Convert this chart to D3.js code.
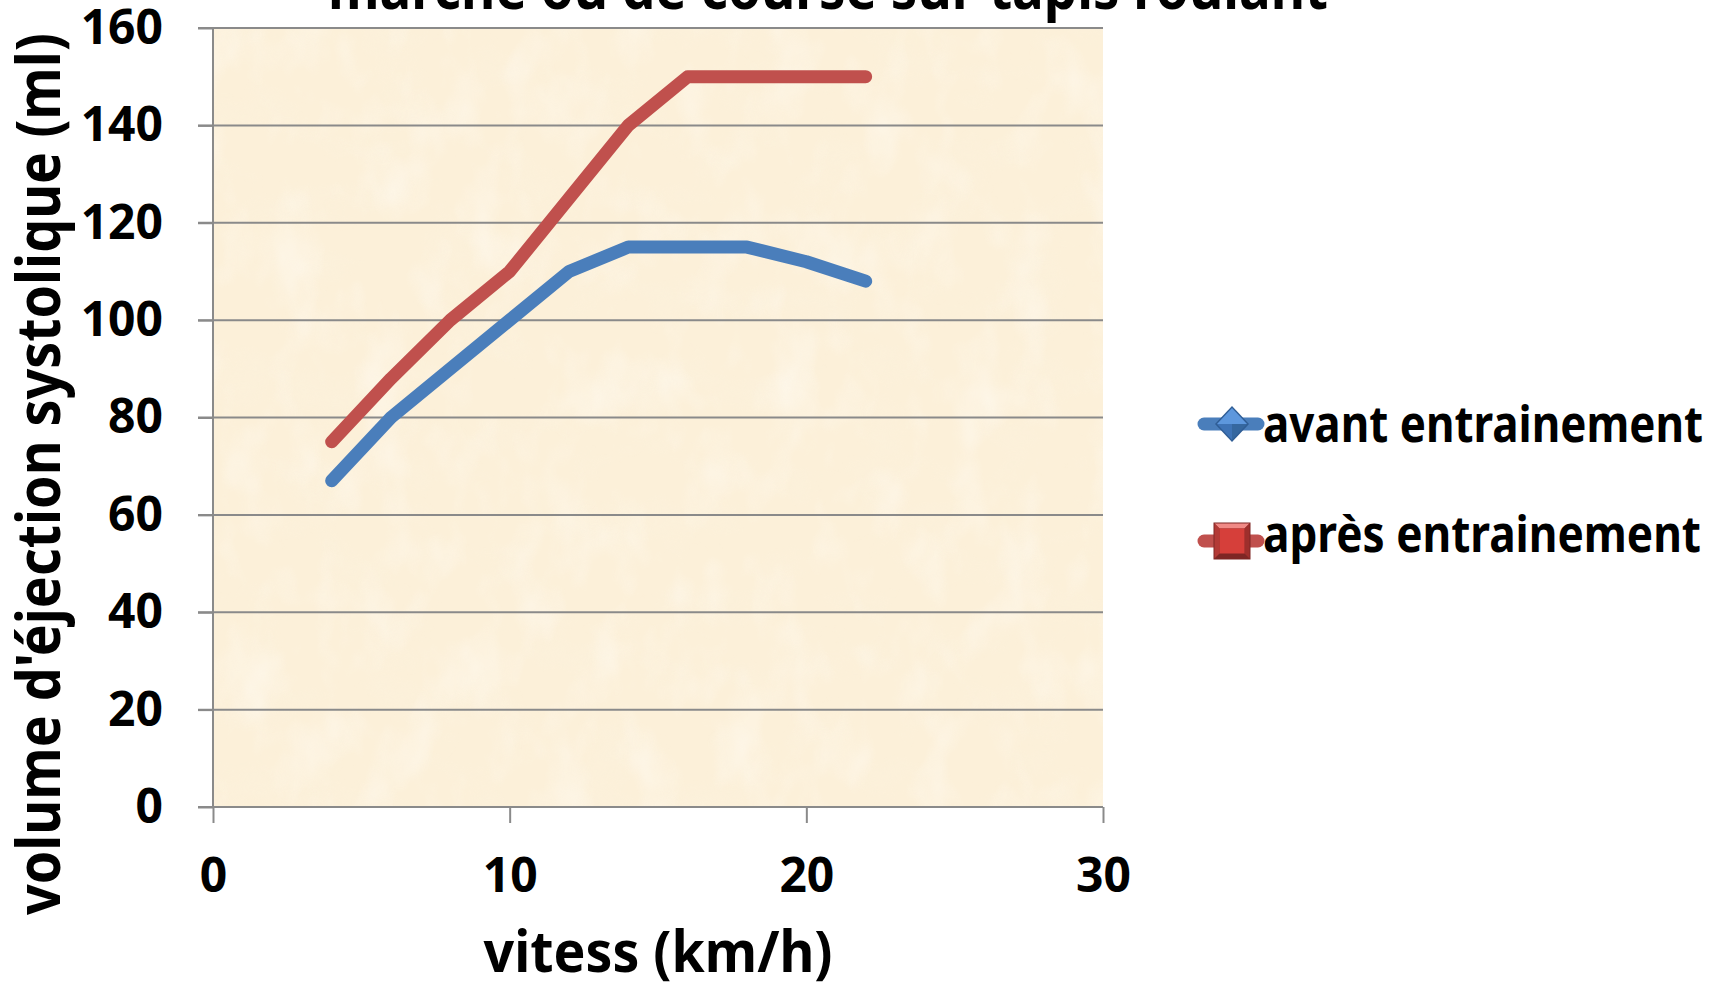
<!DOCTYPE html>
<html>
<head>
<meta charset="utf-8">
<script src="https://cdn.jsdelivr.net/npm/d3@7/dist/d3.min.js"></script>
<style>
  html, body { margin: 0; padding: 0; background: #ffffff; overflow: hidden; }
  svg { display: block; font-family: "Noto Sans", "Open Sans", sans-serif; font-weight: 700; }
</style>
</head>
<body>
<svg id="chart" width="1725" height="986"></svg>
<script>
// Stroke volume during treadmill walking / running, before and after training
const speeds = [4, 6, 8, 10, 12, 14, 16, 18, 20, 22];
const avantEntrainement = [67, 80, 90, 100, 110, 115, 115, 115, 112, 108];
const apresEntrainement = [75, 88, 100, 110, 125, 140, 150, 150, 150, 150];
const seriesNames = ["avant entrainement", "après entrainement"];
const xTickValues = [0, 10, 20, 30];
const yTickValues = [0, 20, 40, 60, 80, 100, 120, 140, 160];
const titleText = "marche ou de course sur tapis roulant";
const xTitle = "vitess (km/h)";
const yTitle = "volume d'éjection systolique (ml)";

const svg = d3.select("#chart");
const plot = { left: 213, right: 1103, top: 28, bottom: 807 };
const colors = { avant: "#4a7ebb", apres: "#c0504d", grid: "#8a8a8a" };

const x = d3.scaleLinear().domain([0, 30]).range([plot.left, plot.right]);
const y = d3.scaleLinear().domain([0, 160]).range([plot.bottom, plot.top]);

// parchment texture for the plot area
const defs = svg.append("defs");
const darkSpots = defs.append("filter").attr("id", "paperDark")
  .attr("x", 0).attr("y", 0).attr("width", 1).attr("height", 1);
darkSpots.append("feTurbulence").attr("type", "fractalNoise")
  .attr("baseFrequency", "0.014 0.022").attr("numOctaves", 3).attr("seed", 5);
darkSpots.append("feColorMatrix").attr("type", "matrix")
  .attr("values", "0 0 0 0 0.96  0 0 0 0 0.90  0 0 0 0 0.76  1.4 0 0 0 -0.70");
const lightSpots = defs.append("filter").attr("id", "paperLight")
  .attr("x", 0).attr("y", 0).attr("width", 1).attr("height", 1);
lightSpots.append("feTurbulence").attr("type", "fractalNoise")
  .attr("baseFrequency", "0.022 0.014").attr("numOctaves", 3).attr("seed", 11);
lightSpots.append("feColorMatrix").attr("type", "matrix")
  .attr("values", "0 0 0 0 1  0 0 0 0 0.98  0 0 0 0 0.94  0 1.6 0 0 -0.75");

const bg = svg.append("g");
bg.append("rect").attr("x", plot.left).attr("y", plot.top)
  .attr("width", plot.right - plot.left).attr("height", plot.bottom - plot.top)
  .attr("fill", "#fcf0d9");
bg.append("rect").attr("x", plot.left).attr("y", plot.top)
  .attr("width", plot.right - plot.left).attr("height", plot.bottom - plot.top)
  .attr("filter", "url(#paperDark)").attr("opacity", 0.4);
bg.append("rect").attr("x", plot.left).attr("y", plot.top)
  .attr("width", plot.right - plot.left).attr("height", plot.bottom - plot.top)
  .attr("filter", "url(#paperLight)").attr("opacity", 0.6);

// horizontal gridlines
svg.append("g").selectAll("line").data(yTickValues.filter(v => v > 0)).join("line")
  .attr("x1", plot.left - 15).attr("x2", plot.right)
  .attr("y1", d => y(d)).attr("y2", d => y(d))
  .attr("stroke", colors.grid).attr("stroke-width", 2);

// axes
const yAxis = svg.append("g").attr("transform", `translate(${plot.left},0)`)
  .call(d3.axisLeft(y).tickValues(yTickValues).tickSize(15).tickPadding(35).tickFormat(d3.format("d")));
const xAxis = svg.append("g").attr("transform", `translate(0,${plot.bottom})`)
  .call(d3.axisBottom(x).tickValues(xTickValues).tickSize(16).tickPadding(35).tickFormat(d3.format("d")));
[yAxis, xAxis].forEach(a => {
  a.select(".domain").attr("stroke", colors.grid).attr("stroke-width", 2);
  a.selectAll(".tick line").attr("stroke", colors.grid).attr("stroke-width", 2);
  a.selectAll(".tick text").attr("fill", "#000").style("font-family", "'Noto Sans', sans-serif")
    .style("font-weight", 700).style("font-size", "48px");
});
// plain axis lines without the outer end ticks
yAxis.select(".domain").attr("d", `M0,${plot.top}V${plot.bottom}`);
xAxis.select(".domain").attr("d", `M${plot.left - 15},0H${plot.right}`);

// series lines
const line = d3.line().x(d => x(d[0])).y(d => y(d[1]));
const series = [
  { name: seriesNames[0], values: avantEntrainement, color: colors.avant },
  { name: seriesNames[1], values: apresEntrainement, color: colors.apres }
];
svg.append("g").selectAll("path").data(series).join("path")
  .attr("d", s => line(speeds.map((v, i) => [v, s.values[i]])))
  .attr("fill", "none").attr("stroke", s => s.color).attr("stroke-width", 13)
  .attr("stroke-linejoin", "round").attr("stroke-linecap", "round");

// titles
svg.append("text").attr("x", 828).attr("y", 9).attr("text-anchor", "middle")
  .attr("textLength", 1000).attr("lengthAdjust", "spacingAndGlyphs")
  .style("font-size", "60px").text(titleText);
svg.append("text").attr("x", (plot.left + plot.right) / 2).attr("y", 972).attr("text-anchor", "middle")
  .attr("textLength", 349).attr("lengthAdjust", "spacingAndGlyphs")
  .style("font-size", "58px").text(xTitle);
svg.append("text").attr("transform", "translate(60,474) rotate(-90)").attr("text-anchor", "middle")
  .attr("textLength", 882).attr("lengthAdjust", "spacingAndGlyphs")
  .style("font-size", "61px").text(yTitle);

// legend
const legend = svg.append("g");
const legendRows = [
  { s: series[0], cy: 424, baseline: 442, width: 440, marker: "diamond" },
  { s: series[1], cy: 541, baseline: 552, width: 438, marker: "square" }
];
legendRows.forEach(r => {
  const g = legend.append("g");
  g.append("line").attr("x1", 1204).attr("x2", 1258).attr("y1", r.cy).attr("y2", r.cy)
    .attr("stroke", r.s.color).attr("stroke-width", 13).attr("stroke-linecap", "round");
  const cx = 1232;
  if (r.marker === "diamond") {
    const h = 18, w = 17;
    g.append("polygon").attr("points", `${cx},${r.cy - h} ${cx + w},${r.cy} ${cx},${r.cy + h} ${cx - w},${r.cy}`)
      .attr("fill", "#2f5d95");
    g.append("polygon").attr("points", `${cx},${r.cy - h + 2} ${cx + w - 2},${r.cy} ${cx},${r.cy} ${cx - w + 2},${r.cy}`)
      .attr("fill", "#5d97dd");
    g.append("polygon").attr("points", `${cx - w + 2},${r.cy} ${cx},${r.cy} ${cx},${r.cy + h - 2}`)
      .attr("fill", "#3e73b6");
    g.append("polygon").attr("points", `${cx + w - 2},${r.cy} ${cx},${r.cy} ${cx},${r.cy + h - 2}`)
      .attr("fill", "#35679f");
  } else {
    const s = 18.5;
    g.append("rect").attr("x", cx - s).attr("y", r.cy - s).attr("width", 2 * s).attr("height", 2 * s)
      .attr("fill", "#7e2624");
    g.append("polygon").attr("points", `${cx - s + 1},${r.cy - s + 1} ${cx + s - 1},${r.cy - s + 1} ${cx + s - 6},${r.cy - s + 6} ${cx - s + 6},${r.cy - s + 6}`)
      .attr("fill", "#f08a86");
    g.append("polygon").attr("points", `${cx - s + 1},${r.cy - s + 1} ${cx - s + 6},${r.cy - s + 6} ${cx - s + 6},${r.cy + s - 6} ${cx - s + 1},${r.cy + s - 1}`)
      .attr("fill", "#b33a36");
    g.append("polygon").attr("points", `${cx + s - 1},${r.cy - s + 1} ${cx + s - 6},${r.cy - s + 6} ${cx + s - 6},${r.cy + s - 6} ${cx + s - 1},${r.cy + s - 1}`)
      .attr("fill", "#9e2f2c");
    g.append("rect").attr("x", cx - s + 6).attr("y", r.cy - s + 6).attr("width", 2 * s - 12).attr("height", 2 * s - 12)
      .attr("fill", "#d63f3a");
  }
  g.append("text").attr("x", 1263).attr("y", r.baseline)
    .attr("textLength", r.width).attr("lengthAdjust", "spacingAndGlyphs")
    .style("font-size", "50px").text(r.s.name);
});
</script>
</body>
</html>
